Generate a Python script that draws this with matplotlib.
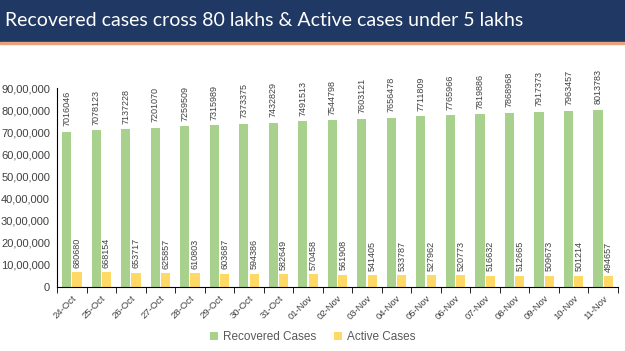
import numpy as np
import matplotlib.pyplot as plt
from matplotlib.patches import Rectangle
from matplotlib.transforms import ScaledTranslation

dates = ['24-Oct', '25-Oct', '26-Oct', '27-Oct', '28-Oct', '29-Oct', '30-Oct', '31-Oct',
         '01-Nov', '02-Nov', '03-Nov', '04-Nov', '05-Nov', '06-Nov', '07-Nov', '08-Nov',
         '09-Nov', '10-Nov', '11-Nov']
recovered = [7016046, 7078123, 7137228, 7201070, 7259509, 7315989, 7373375, 7432829,
             7491513, 7544798, 7603121, 7656478, 7711809, 7765966, 7819886, 7868968,
             7917373, 7963457, 8013783]
active = [680680, 668154, 653717, 625857, 610803, 603687, 594386, 582649,
          570458, 561908, 541405, 533787, 527962, 520773, 516632, 512665,
          509673, 501214, 494657]
yticks = [0, 1000000, 2000000, 3000000, 4000000, 5000000, 6000000, 7000000, 8000000, 9000000]
ytick_labels = ['0', '10,00,000', '20,00,000', '30,00,000', '40,00,000', '50,00,000',
                '60,00,000', '70,00,000', '80,00,000', '90,00,000']

green = '#A9D18E'
yellow = '#FFD966'
font = 'Liberation Sans'

fig = plt.figure(figsize=(6.25, 3.51), dpi=100)

# title banner
fig.patches.append(Rectangle((0, 1 - 42 / 351), 1, 42 / 351, transform=fig.transFigure,
                             color='#1F3864', zorder=0))
fig.patches.append(Rectangle((0, 1 - 44 / 351), 1, 2 / 351, transform=fig.transFigure,
                             color='#E8A27C', zorder=0))
fig.text(0.008, 1 - 21 / 351, 'Recovered cases cross 80 lakhs & Active cases under 5 lakhs',
         color='white', fontsize=14, family='Lato', va='center', ha='left')

ax = fig.add_axes([57 / 625, 1 - 287 / 351, (618 - 57) / 625, (287 - 88) / 351])
x = np.arange(len(dates))
w = 0.31
ax.bar(x - w / 2 - 0.02, recovered, w, color=green, label='Recovered Cases')
ax.bar(x + w / 2 + 0.02, active, w, color=yellow, label='Active Cases')

for xi, r, a in zip(x, recovered, active):
    ax.text(xi - w / 2 - 0.02, r + 250000, str(r), rotation=90, ha='center', va='bottom',
            fontsize=6.5, family=font, color='#404040', clip_on=False)
    ax.text(xi + w / 2 + 0.02, a + 200000, str(a), rotation=90, ha='center', va='bottom',
            fontsize=6.5, family=font, color='#404040', clip_on=False)

ax.set_xlim(-0.5, len(dates) - 0.5)
ax.set_ylim(0, 9000000)
ax.set_yticks(yticks)
ax.set_yticklabels(ytick_labels, family=font, fontsize=8, color='#404040')
ax.tick_params(axis='y', length=0, pad=5)
ax.set_xticks(x)
ax.set_xticklabels(dates, rotation=45, ha='right', rotation_mode='anchor',
                   family=font, fontsize=6.8, color='#404040')
shift = ScaledTranslation(-6 / 100, 0, fig.dpi_scale_trans)
for lbl in ax.get_xticklabels():
    lbl.set_transform(lbl.get_transform() + shift)
ax.set_xticks(np.arange(len(dates) + 1) - 0.5, minor=True)
ax.tick_params(axis='x', which='major', length=0, pad=5)
ax.tick_params(axis='x', which='minor', length=4, color='black')
for s in ['top', 'right']:
    ax.spines[s].set_visible(False)
ax.spines['left'].set_color('black')
ax.spines['bottom'].set_color('black')

leg = fig.legend(loc='center', bbox_to_anchor=(0.5, 1 - 337 / 351), ncol=2, frameon=False,
                 prop={'family': font, 'size': 8.5}, handlelength=0.7, handleheight=0.7,
                 columnspacing=1.5, handletextpad=0.4)
for t in leg.get_texts():
    t.set_color('#595959')

fig.savefig('out.png', dpi=100)
